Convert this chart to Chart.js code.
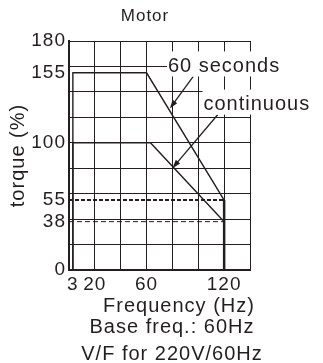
<!DOCTYPE html>
<html>
<head>
<meta charset="utf-8">
<script src="https://cdn.jsdelivr.net/npm/chart.js@4/dist/chart.umd.min.js"></script>
<style>
  html, body { margin: 0; padding: 0; background: #fff; }
  #wrap { width: 323px; height: 363px; }
</style>
</head>
<body>
<div id="wrap"><canvas id="motor" width="323" height="363"></canvas></div>
<script>
// values
const gridStep = 20;
const xTickLabels = [3, 20, 60, 120];
const yTickLabels = [0, 38, 55, 100, 155, 180];

const sixtySecFreq = [3, 3, 60, 120];
const sixtySecTorque = [0, 155, 155, 55];
const contFreq = [3, 3, 63, 120];
const contTorque = [0, 100, 100, 38];
const cutoffFreq = [120, 120];
const cutoffTorque = [55, 0];
const limitFreq = [0, 120];
const limit60s = [55, 55];
const limitCont = [38, 38];

// arrows + their labels (data units)
const arrowFrom = [[96, 152], [115, 122]];
const arrowTo = [[78, 127], [80, 80]];
const noteText = ['60 seconds', 'continuous'];
const noteAt = [[76.5, 160], [104, 130]];

const ink = '#231f20';
const fontFamily = '"Liberation Sans", Arial, sans-serif';

const toPoints = (xs, ys) => xs.map((v, i) => ({ x: v, y: ys[i] }));

function unionTicks(max, labels) {
  const vals = new Set(labels);
  for (let v = 0; v <= max; v += gridStep) vals.add(v);
  return [...vals].sort((a, b) => a - b);
}

const notes = {
  id: 'notes',
  beforeLayout(chart) { chart.ctx.letterSpacing = '1px'; },
  beforeDraw(chart) { chart.ctx.letterSpacing = '1px'; },
  afterDatasetsDraw(chart) {
    const { ctx, scales: { x, y } } = chart;
    ctx.save();
    ctx.strokeStyle = ink;
    ctx.fillStyle = ink;
    ctx.lineWidth = 1.3;
    arrowFrom.forEach((from, i) => {
      const x0 = x.getPixelForValue(from[0]), y0 = y.getPixelForValue(from[1]);
      const x1 = x.getPixelForValue(arrowTo[i][0]), y1 = y.getPixelForValue(arrowTo[i][1]);
      const a = Math.atan2(y1 - y0, x1 - x0);
      const head = 9;
      ctx.beginPath();
      ctx.moveTo(x0, y0);
      ctx.lineTo(x1 - Math.cos(a) * head * 0.7, y1 - Math.sin(a) * head * 0.7);
      ctx.stroke();
      ctx.beginPath();
      ctx.moveTo(x1, y1);
      ctx.lineTo(x1 - head * Math.cos(a - 0.32), y1 - head * Math.sin(a - 0.32));
      ctx.lineTo(x1 - head * Math.cos(a + 0.32), y1 - head * Math.sin(a + 0.32));
      ctx.closePath();
      ctx.fill();
    });

    ctx.font = '20px ' + fontFamily;
    ctx.textBaseline = 'middle';
    ctx.textAlign = 'left';
    noteText.forEach((t, i) => {
      const px = x.getPixelForValue(noteAt[i][0]), py = y.getPixelForValue(noteAt[i][1]);
      const w = ctx.measureText(t).width;
      ctx.fillStyle = '#fff';
      ctx.fillRect(px - 1, py - 15, w + 4, 25);
      ctx.fillStyle = ink;
      ctx.fillText(t, px, py);
    });
    ctx.restore();
  },
  afterDraw(chart) {
    const ctx = chart.ctx;
    ctx.save();
    ctx.fillStyle = ink;
    ctx.textAlign = 'center';
    ctx.textBaseline = 'alphabetic';
    ctx.font = '17px ' + fontFamily;
    ctx.fillText('Motor', 145, 21);
    ctx.font = '20px ' + fontFamily;
    ctx.fillText('Frequency (Hz)', 179, 312);
    ctx.fillText('Base freq.: 60Hz', 172, 333);
    ctx.fillText('V/F for 220V/60Hz', 172, 360);
    ctx.restore();
  }
};

const lineStyle = { borderColor: ink, pointRadius: 0, showLine: true, fill: false, tension: 0 };

new Chart(document.getElementById('motor'), {
  type: 'scatter',
  data: {
    datasets: [
      { ...lineStyle, label: '60 seconds', data: toPoints(sixtySecFreq, sixtySecTorque), borderWidth: 1.4 },
      { ...lineStyle, label: 'continuous', data: toPoints(contFreq, contTorque), borderWidth: 1.4 },
      { ...lineStyle, label: 'cutoff', data: toPoints(cutoffFreq, cutoffTorque), borderWidth: 2.5 },
      { ...lineStyle, label: '55%', data: toPoints(limitFreq, limit60s), borderWidth: 2, borderDash: [4, 2] },
      { ...lineStyle, label: '38%', data: toPoints(limitFreq, limitCont), borderWidth: 1, borderDash: [5, 3] }
    ]
  },
  options: {
    responsive: false,
    animation: false,
    events: [],
    layout: { padding: { top: 41, right: 73, bottom: 0, left: 0 } },
    plugins: {
      legend: { display: false },
      title: { display: false },
      tooltip: { enabled: false }
    },
    scales: {
      x: {
        type: 'linear',
        min: 0,
        max: 140,
        afterBuildTicks: (s) => { s.ticks = unionTicks(140, xTickLabels).map(v => ({ value: v })); },
        afterFit: (s) => { s.height = 93; },
        border: { color: ink, width: 2 },
        grid: {
          drawTicks: false,
          lineWidth: 1,
          color: (c) => (c.tick && c.tick.value % gridStep === 0) ? ink : 'rgba(0,0,0,0)'
        },
        ticks: {
          autoSkip: false,
          maxRotation: 0,
          padding: 3,
          color: ink,
          font: { family: fontFamily, size: 19 },
          callback: (v) => xTickLabels.includes(v) ? String(v) : ''
        }
      },
      y: {
        min: 0,
        max: 180,
        afterBuildTicks: (s) => { s.ticks = unionTicks(180, yTickLabels).map(v => ({ value: v })); },
        afterFit: (s) => { s.width = 69; },
        border: { color: ink, width: 2 },
        grid: {
          drawTicks: false,
          lineWidth: 1,
          color: (c) => (c.tick && c.tick.value % gridStep === 0) ? ink : 'rgba(0,0,0,0)'
        },
        ticks: {
          autoSkip: false,
          padding: 3,
          color: ink,
          font: { family: fontFamily, size: 19 },
          callback: (v) => yTickLabels.includes(v) ? String(v) : ''
        },
        title: {
          display: true,
          text: 'torque (%)',
          color: ink,
          font: { family: fontFamily, size: 20 },
          padding: { top: 6, bottom: 0 }
        }
      }
    }
  },
  plugins: [notes]
});
</script>
</body>
</html>
